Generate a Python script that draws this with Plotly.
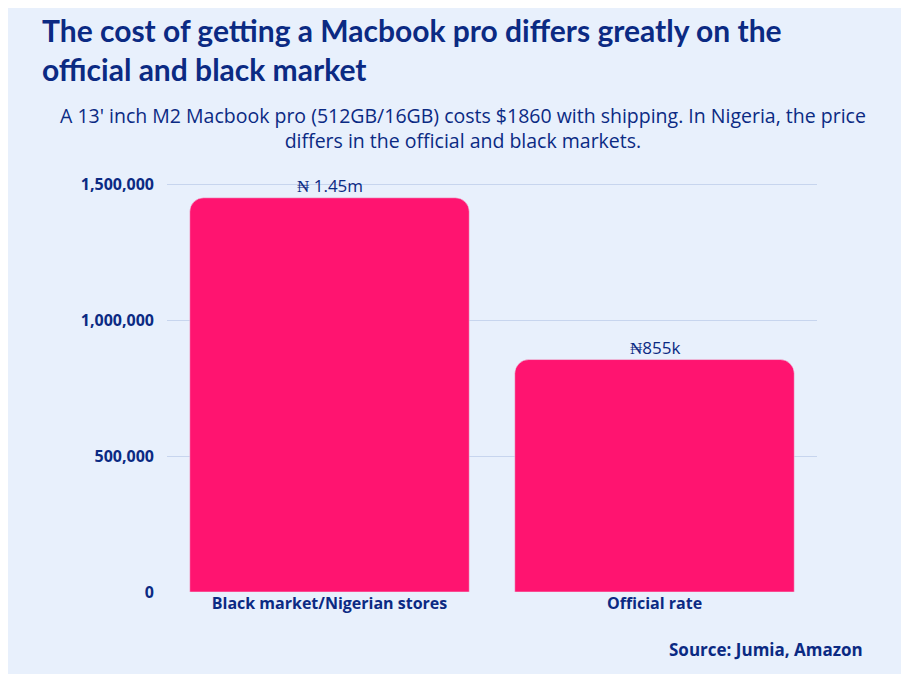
import plotly.graph_objects as go

categories = ["Black market/Nigerian stores", "Official rate"]
values = [1450000, 855000]
labels = ["₦ 1.45m", "₦855k"]
tick_vals = [0, 500000, 1000000, 1500000]
tick_text = ["0", "500,000", "1,000,000", "1,500,000"]

navy = "#0B2A83"
fig = go.Figure(go.Bar(x=categories, y=values, marker=dict(color="#FF1470", cornerradius=14),
                       width=0.86, hoverinfo="skip"))
for c, v, t in zip(categories, values, labels):
    fig.add_annotation(x=c, y=v, text=t, showarrow=False, yshift=12,
                       font=dict(family="Open Sans", size=17, color=navy))
fig.update_layout(
    width=893, height=666, paper_bgcolor="#E8F0FC", plot_bgcolor="#E8F0FC",
    margin=dict(l=159, r=84, t=174, b=82), showlegend=False,
    font=dict(family="Open Sans", color=navy),
    xaxis=dict(range=[-0.5, 1.5], showgrid=False, showline=False, ticks="",
               tickfont=dict(family="Open Sans", size=16, color=navy, weight="bold")),
    yaxis=dict(range=[0, 1508000], tickvals=tick_vals, ticktext=tick_text, gridcolor="#C7D5EE",
               zeroline=False, ticks="", ticklabelstandoff=12,
               tickfont=dict(family="Open Sans", size=16, color=navy, weight="bold")),
)
fig.add_annotation(xref="paper", yref="paper", x=-0.195, y=1.0, xanchor="left", yanchor="bottom",
                   yshift=93, align="left", showarrow=False,
                   text="<b>The cost of getting a Macbook pro differs greatly on the<br>official and black market</b>",
                   font=dict(family="Lato", size=30, color=navy, weight=900))
fig.add_annotation(xref="paper", yref="paper", x=0.455, y=1.0, xanchor="center", yanchor="bottom",
                   yshift=26, align="center", showarrow=False,
                   text="A 13' inch M2 Macbook pro (512GB/16GB) costs $1860 with shipping. In Nigeria, the price<br>differs in the official and black markets.",
                   font=dict(family="Open Sans", size=19.5, color=navy))
fig.add_annotation(xref="paper", yref="paper", x=1.074, y=0, xanchor="right", yanchor="top",
                   yshift=-44, showarrow=False, text="<b>Source: Jumia, Amazon</b>",
                   font=dict(family="Open Sans", size=17, color=navy))
fig.write_html("out.html")
